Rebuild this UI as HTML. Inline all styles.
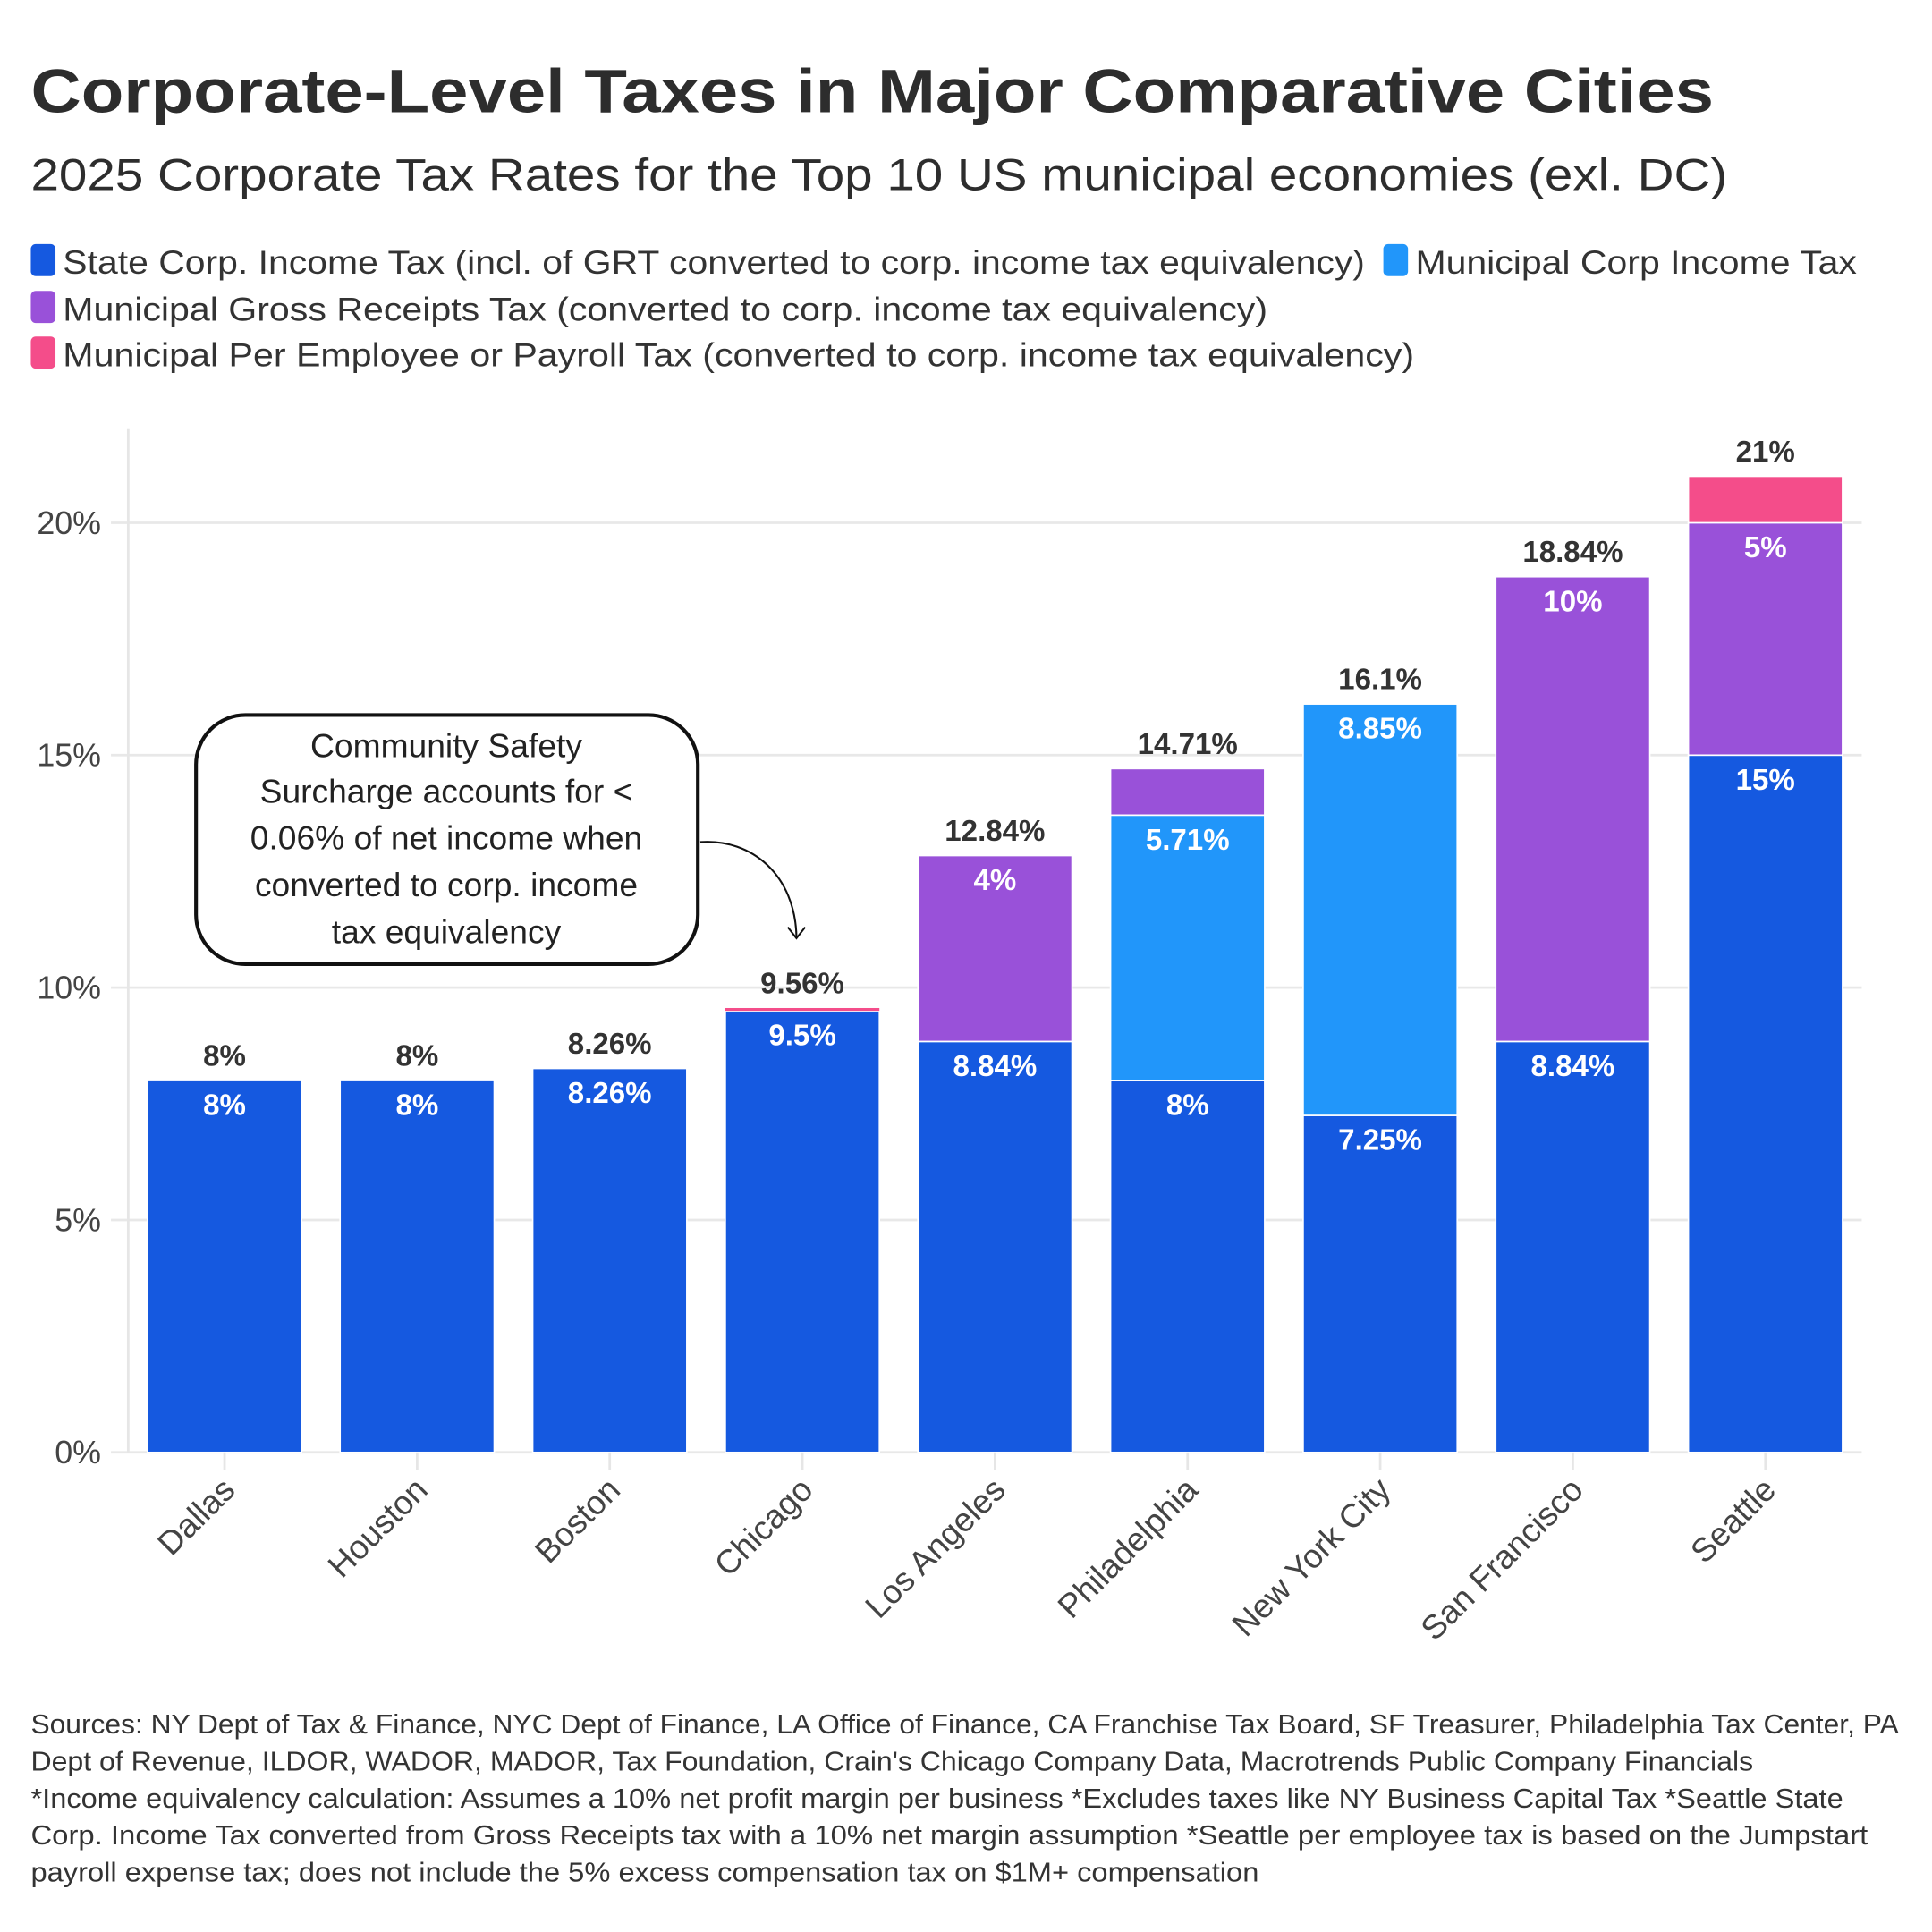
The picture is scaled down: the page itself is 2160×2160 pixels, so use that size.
<!DOCTYPE html>
<html><head><meta charset="utf-8"><style>
html,body{margin:0;padding:0;background:#fff}
svg{display:block}
text{font-family:"Liberation Sans",sans-serif}
</style></head><body>
<svg id="chart" width="2160" height="2160" viewBox="0 0 1567 1567" xmlns="http://www.w3.org/2000/svg">
<text x="25" y="91" font-size="50" font-weight="bold" fill="#2d2d2d" textLength="1365" lengthAdjust="spacingAndGlyphs">Corporate-Level Taxes in Major Comparative Cities</text>
<text x="25" y="154" font-size="36" fill="#2d2d2d" textLength="1376" lengthAdjust="spacingAndGlyphs">2025 Corporate Tax Rates for the Top 10 US municipal economies (exl. DC)</text>
<g font-size="27" fill="#333">
 <rect x="25" y="198" width="20" height="26" rx="4" fill="#1559e0"/>
 <text x="51" y="222" textLength="1056" lengthAdjust="spacingAndGlyphs">State Corp. Income Tax (incl. of GRT converted to corp. income tax equivalency)</text>
 <rect x="1122" y="198" width="20" height="26" rx="4" fill="#2196fa"/>
 <text x="1148" y="222" textLength="358" lengthAdjust="spacingAndGlyphs">Municipal Corp Income Tax</text>
 <rect x="25" y="236" width="20" height="26" rx="4" fill="#9951d9"/>
 <text x="51" y="260" textLength="977" lengthAdjust="spacingAndGlyphs">Municipal Gross Receipts Tax (converted to corp. income tax equivalency)</text>
 <rect x="25" y="273" width="20" height="26" rx="4" fill="#f44d8a"/>
 <text x="51" y="297" textLength="1096" lengthAdjust="spacingAndGlyphs">Municipal Per Employee or Payroll Tax (converted to corp. income tax equivalency)</text>
</g>
<g id="grid"></g>
<line x1="104" y1="348" x2="104" y2="1178" stroke="#e6e6e6" stroke-width="2"/>
<g id="bars"></g>
<g id="labels"></g>
<g id="xaxis"></g>
<g>
 <rect x="159" y="580" width="407" height="202" rx="40" fill="#fff" stroke="#111" stroke-width="3"/>
 <g font-size="27" fill="#222" text-anchor="middle">
  <text x="362" y="614">Community Safety</text>
  <text x="362" y="651">Surcharge accounts for &lt;</text>
  <text x="362" y="689">0.06% of net income when</text>
  <text x="362" y="727">converted to corp. income</text>
  <text x="362" y="765">tax equivalency</text>
 </g>
 <path d="M568,683 C610,680 645,710 646,760" fill="none" stroke="#111" stroke-width="1.5"/>
 <path d="M639,752 L646,761 L653,752" fill="none" stroke="#111" stroke-width="1.5"/>
</g>
<g font-size="22" fill="#333">
 <text x="25" y="1406" textLength="1515" lengthAdjust="spacingAndGlyphs">Sources: NY Dept of Tax &amp; Finance, NYC Dept of Finance, LA Office of Finance, CA Franchise Tax Board, SF Treasurer, Philadelphia Tax Center, PA</text>
 <text x="25" y="1436" textLength="1397" lengthAdjust="spacingAndGlyphs">Dept of Revenue, ILDOR, WADOR, MADOR, Tax Foundation, Crain's Chicago Company Data, Macrotrends Public Company Financials</text>
 <text x="25" y="1466" textLength="1470" lengthAdjust="spacingAndGlyphs">*Income equivalency calculation: Assumes a 10% net profit margin per business *Excludes taxes like NY Business Capital Tax *Seattle State</text>
 <text x="25" y="1496" textLength="1490" lengthAdjust="spacingAndGlyphs">Corp. Income Tax converted from Gross Receipts tax with a 10% net margin assumption *Seattle per employee tax is based on the Jumpstart</text>
 <text x="25" y="1526" textLength="996" lengthAdjust="spacingAndGlyphs">payroll expense tax; does not include the 5% excess compensation tax on $1M+ compensation</text>
</g>
</svg>
<script>
const cities = ["Dallas","Houston","Boston","Chicago","Los Angeles","Philadelphia","New York City","San Francisco","Seattle"];
const stateTax = [8,8,8.26,9.5,8.84,8,7.25,8.84,15];
const muniIncome = [0,0,0,0,0,5.71,8.85,0,0];
const grossReceipts = [0,0,0,0,4,1,0,10,5];
const payroll = [0,0,0,0.06,0,0,0,0,1];
const totalLabels = ["8%","8%","8.26%","9.56%","12.84%","14.71%","16.1%","18.84%","21%"];
const yTicks = [0,5,10,15,20];
const yTickLabels = ["0%","5%","10%","15%","20%"];

const NS="http://www.w3.org/2000/svg";
const x0=104,x1=1510,y0=1178,pxPerUnit=(1178-424)/20;
const band=(x1-x0)/cities.length, barW=125;
function y(v){return y0-v*pxPerUnit;}
function bx(i){return x0+i*band+(band-barW)/2;}
function mk(tag,attrs,parent){const e=document.createElementNS(NS,tag);for(const k in attrs)e.setAttribute(k,attrs[k]);parent.appendChild(e);return e;}
function fmt(v){return (Math.round(v*100)/100)+"%";}

const grid=document.getElementById('grid');
yTicks.forEach((t,i)=>{
  const l=mk('line',{x1:90,x2:x1,y1:y(t),y2:y(t),stroke:'#e8e8e8','stroke-width':2},grid);
  
  
  const tx=mk('text',{x:82,y:y(t)+9,'text-anchor':'end','font-size':26,fill:'#444'},grid);
  
  
  tx.textContent=yTickLabels[i];
});

const bars=document.getElementById('bars'), labels=document.getElementById('labels'), xaxis=document.getElementById('xaxis');
const series=[[stateTax,'#1559e0','state'],[muniIncome,'#2196fa','municipal-income'],[grossReceipts,'#9951d9','gross-receipts'],[payroll,'#f44d8a','payroll']];
cities.forEach((c,i)=>{
  let base=0;
  series.forEach(([arr,col,nm])=>{
    const v=arr[i]; if(v<=0) return;
    const top=base+v;
    const r=mk('rect',{x:bx(i),y:y(top),width:barW,height:y(base)-y(top),fill:col,stroke:'#fff','stroke-width':v<0.5?0:1.2},bars);
    
    
    if(v>=2){
      const t=mk('text',{x:bx(i)+barW/2,y:y(top)+28,'text-anchor':'middle','font-size':24,'font-weight':'bold',fill:'#fff'},labels);
      
      
      t.textContent=fmt(v);
    }
    base=top;
  });
  const tt=mk('text',{x:bx(i)+barW/2,y:y(base)-12,'text-anchor':'middle','font-size':24,'font-weight':'bold',fill:'#333'},labels);
  
  
  tt.textContent=totalLabels[i];
  const cx=x0+i*band+band/2;
  const tk=mk('line',{x1:cx,x2:cx,y1:y0,y2:y0+14,stroke:'#e6e6e6','stroke-width':2},xaxis);
  
  
  const xl=mk('text',{x:cx+10,y:y0+32,'text-anchor':'end','font-size':27,fill:'#444',transform:`rotate(-45 ${cx+10} ${y0+32})`},xaxis);
  
  
  xl.textContent=c;
});
</script>
</body></html>
